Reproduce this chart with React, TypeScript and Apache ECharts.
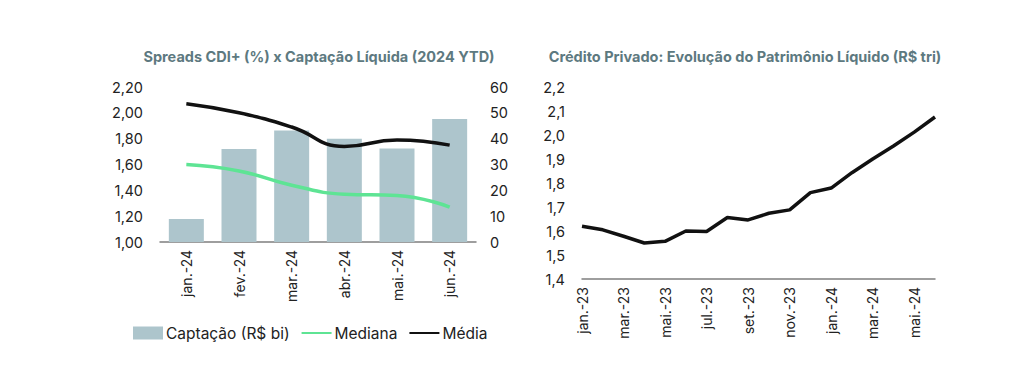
import React, { useEffect, useRef } from "react";
import * as echarts from "echarts";

const months2024 = ["jan.-24", "fev.-24", "mar.-24", "abr.-24", "mai.-24", "jun.-24"];
const captacao = [8.9, 36.0, 43.2, 40.0, 36.2, 47.6];
const mediana = [1.6, 1.55, 1.44, 1.37, 1.36, 1.27];
const media = [2.07, 2.0, 1.89, 1.74, 1.79, 1.75];

const monthsPL = [
  "jan.-23", "fev.-23", "mar.-23", "abr.-23", "mai.-23", "jun.-23",
  "jul.-23", "ago.-23", "set.-23", "out.-23", "nov.-23", "dez.-23",
  "jan.-24", "fev.-24", "mar.-24", "abr.-24", "mai.-24", "jun.-24",
];
const plValues = [
  1.62, 1.605, 1.578, 1.55, 1.557, 1.6, 1.598, 1.656, 1.646, 1.674, 1.688, 1.76,
  1.779, 1.843, 1.9, 1.954, 2.012, 2.075,
];

const FONT = "Inter, 'Noto Sans', sans-serif";
const TEXT = "#222222";
const TITLE = "#5d7980";

export default function App() {
  const ref = useRef<HTMLDivElement>(null);
  useEffect(() => {
    if (!ref.current) return;
    const chart = echarts.init(ref.current, null, { renderer: "svg" });
    const axisLabel = { color: TEXT, fontSize: 14.5, fontFamily: FONT };
    const titleStyle = { color: TITLE, fontSize: 14.5, fontWeight: "bold", fontFamily: FONT };
    chart.setOption({
      animation: false,
      backgroundColor: "#ffffff",
      textStyle: { fontFamily: FONT },
      title: [
        {
          text: "Spreads CDI+ (%) x Captação Líquida (2024 YTD)",
          left: 314,
          top: 44,
          textAlign: "center",
          textStyle: titleStyle,
        },
        {
          text: "Crédito Privado: Evolução do Patrimônio Líquido (R$ tri)",
          left: 740,
          top: 44,
          textAlign: "center",
          textStyle: titleStyle,
        },
      ],
      legend: {
        left: 133,
        top: 325,
        padding: 0,
        itemGap: 11,
        itemWidth: 30,
        itemHeight: 13,
        textStyle: { color: TEXT, fontSize: 15.5, fontFamily: FONT, padding: [0, 0, 0, -2] },
        data: [
          { name: "Captação (R$ bi)", icon: "rect" },
          { name: "Mediana", itemStyle: { opacity: 0 } },
          { name: "Média", itemStyle: { opacity: 0 } },
        ],
      },
      grid: [
        { left: 160, top: 87, width: 316, height: 155 },
        { left: 582, top: 87, width: 353, height: 192 },
      ],
      xAxis: [
        {
          type: "category",
          gridIndex: 0,
          data: months2024,
          axisLine: { lineStyle: { color: "#7f7f7f", width: 1.5 } },
          axisTick: { show: false },
          axisLabel: { ...axisLabel, fontSize: 14, rotate: 90, margin: 8 },
        },
        {
          type: "category",
          gridIndex: 1,
          data: monthsPL,
          boundaryGap: false,
          axisLine: { lineStyle: { color: "#7f7f7f", width: 1.5 } },
          axisTick: { show: false },
          axisLabel: { ...axisLabel, fontSize: 14, rotate: 90, margin: 8, interval: 1 },
        },
      ],
      yAxis: [
        {
          type: "value",
          gridIndex: 0,
          min: 1.0,
          max: 2.2,
          interval: 0.2,
          splitLine: { show: false },
          axisLine: { show: false },
          axisTick: { show: false },
          axisLabel: {
            ...axisLabel,
            margin: 17,
            formatter: (v: number) => v.toFixed(2).replace(".", ","),
          },
        },
        {
          type: "value",
          gridIndex: 0,
          position: "right",
          min: 0,
          max: 60,
          interval: 10,
          splitLine: { show: false },
          axisLine: { show: false },
          axisTick: { show: false },
          axisLabel: { ...axisLabel, margin: 14 },
        },
        {
          type: "value",
          gridIndex: 1,
          min: 1.4,
          max: 2.2,
          interval: 0.1,
          splitLine: { show: false },
          axisLine: { show: false },
          axisTick: { show: false },
          axisLabel: {
            ...axisLabel,
            margin: 17,
            formatter: (v: number) => v.toFixed(1).replace(".", ","),
          },
        },
      ],
      series: [
        {
          name: "Captação (R$ bi)",
          type: "bar",
          xAxisIndex: 0,
          yAxisIndex: 1,
          data: captacao,
          barWidth: 35,
          itemStyle: { color: "#adc5cc" },
        },
        {
          name: "Mediana",
          type: "line",
          xAxisIndex: 0,
          yAxisIndex: 0,
          data: mediana,
          smooth: true,
          symbol: "none",
          lineStyle: { color: "#5ee494", width: 3.5 },
          itemStyle: { color: "#5ee494" },
        },
        {
          name: "Média",
          type: "line",
          xAxisIndex: 0,
          yAxisIndex: 0,
          data: media,
          smooth: true,
          symbol: "none",
          lineStyle: { color: "#111111", width: 3.5 },
          itemStyle: { color: "#111111" },
        },
        {
          name: "PL",
          type: "line",
          xAxisIndex: 1,
          yAxisIndex: 2,
          data: plValues,
          symbol: "none",
          lineStyle: { color: "#111111", width: 3.5 },
          itemStyle: { color: "#111111" },
        },
      ],
    });
    return () => chart.dispose();
  }, []);
  return (
    <div
      ref={ref}
      style={{ position: "fixed", left: 0, top: 0, width: 1024, height: 387 }}
    />
  );
}
